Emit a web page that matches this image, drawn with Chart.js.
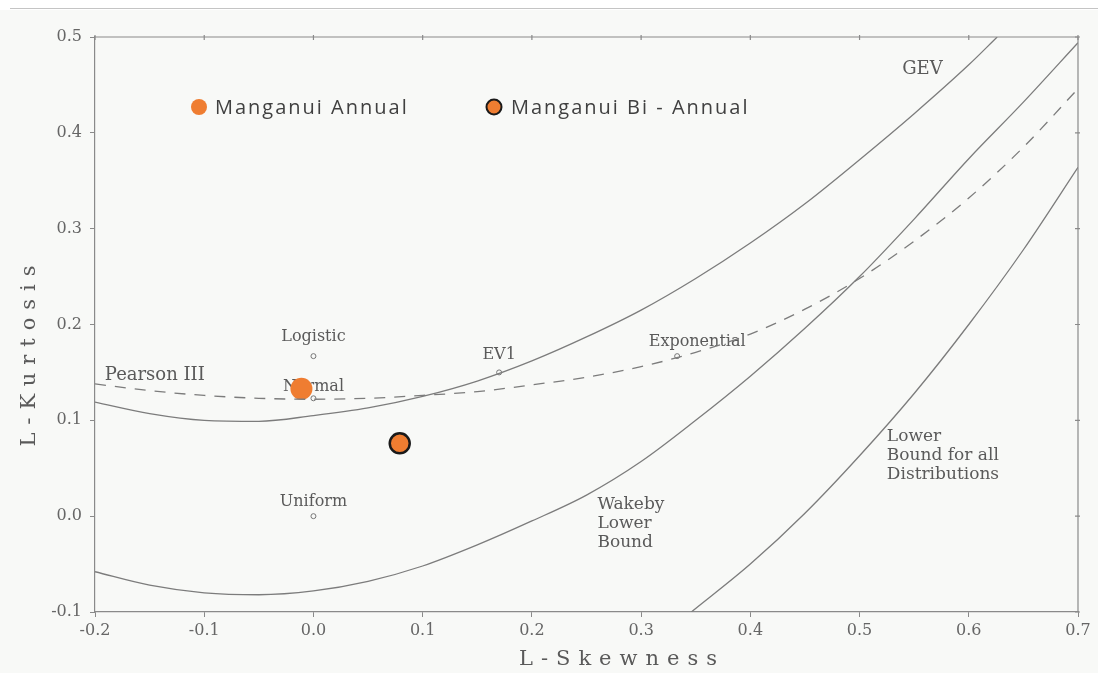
<!DOCTYPE html>
<html>
<head>
<meta charset="utf-8">
<script src="https://cdn.jsdelivr.net/npm/chart.js@4.4.0/dist/chart.umd.min.js"></script>
<style>
  body { margin: 0; background: #fff; }
  #wrap { position: relative; width: 1098px; height: 673px; }
  canvas { position: absolute; left: 0; top: 0; }
  #topline { position: absolute; left: 10px; top: 8px; width: 1088px; height: 1px; background: #c4c4c4; }
</style>
</head>
<body>
<div id="wrap">
  <canvas id="chart" width="1098" height="673"></canvas>
  <div id="topline"></div>
</div>
<script>
const skewSteps = [-0.2, -0.15, -0.1, -0.05, 0, 0.05, 0.1, 0.15, 0.2, 0.25, 0.3, 0.35, 0.4, 0.45, 0.5, 0.55, 0.6, 0.65, 0.7];

const gevSkew = [-0.2, -0.15, -0.1, -0.05, 0, 0.05, 0.1, 0.15, 0.2, 0.25, 0.3, 0.35, 0.4, 0.45, 0.5, 0.55, 0.6, 0.626];
const gevKurt = [0.119, 0.107, 0.100, 0.099, 0.105, 0.113, 0.125, 0.141, 0.162, 0.187, 0.215, 0.248, 0.285, 0.326, 0.372, 0.42, 0.471, 0.5];

const pearsonKurt = [0.138, 0.131, 0.126, 0.123, 0.122, 0.123, 0.126, 0.130, 0.137, 0.145, 0.156, 0.171, 0.19, 0.216, 0.248, 0.287, 0.332, 0.385, 0.446];

const wakebyKurt = [-0.058, -0.072, -0.080, -0.082, -0.078, -0.068, -0.052, -0.030, -0.005, 0.022, 0.057, 0.100, 0.146, 0.196, 0.250, 0.310, 0.373, 0.432, 0.494];

const lowerSkew = [0.346, 0.4, 0.45, 0.5, 0.55, 0.6, 0.65, 0.7];
const lowerKurt = [-0.1, -0.05, 0.003, 0.063, 0.128, 0.2, 0.278, 0.364];

const distNames = ["Logistic", "Normal", "Uniform", "EV1", "Exponential"];
const distSkew = [0, 0, 0, 0.17, 0.333];
const distKurt = [0.167, 0.123, 0, 0.15, 0.167];

const annualSkew = [-0.011];
const annualKurt = [0.133];
const biAnnualSkew = [0.079];
const biAnnualKurt = [0.076];

const xTicks = [-0.2, -0.1, 0.0, 0.1, 0.2, 0.3, 0.4, 0.5, 0.6, 0.7];
const yTicks = [-0.1, 0.0, 0.1, 0.2, 0.3, 0.4, 0.5];

const orange = '#ef7d31';
const lineGray = '#7c7c7c';
const textGray = '#5a5a5a';
const serif = '"DejaVu Serif", "Liberation Serif", serif';

function toPoints(xs, ys) {
  return xs.map((x, i) => ({ x: x, y: ys[i] }));
}

// libellés placés en coordonnées de données (décalage en pixels pour les petits points)
const distLabelOffset = [[0, -19], [0, -11], [0, -14], [0, -18], [20, -14]];
const curveLabels = [
  { text: ["Pearson III"], x: -0.191, y: 0.147, size: 18 },
  { text: ["GEV"], x: 0.539, y: 0.466, size: 18 },
  { text: ["Wakeby", "Lower", "Bound"], x: 0.26, y: 0.0125, size: 17 },
  { text: ["Lower", "Bound for all", "Distributions"], x: 0.525, y: 0.083, size: 17 }
];

const decorPlugin = {
  id: 'decor',
  beforeDraw(chart) {
    const ctx = chart.ctx;
    ctx.save();
    ctx.fillStyle = '#ffffff';
    ctx.fillRect(0, 0, chart.width, chart.height);
    ctx.fillStyle = '#f8f9f7';
    ctx.fillRect(0, 10, chart.width, chart.height - 10);
    ctx.restore();
  },
  beforeDatasetsDraw(chart) {
    const ctx = chart.ctx;
    const xs = chart.scales.x, ys = chart.scales.y;
    ctx.save();
    ctx.fillStyle = textGray;
    ctx.textBaseline = 'middle';
    ctx.font = '16px ' + serif;
    ctx.textAlign = 'center';
    distNames.forEach((name, i) => {
      const px = xs.getPixelForValue(distSkew[i]) + distLabelOffset[i][0];
      const py = ys.getPixelForValue(distKurt[i]) + distLabelOffset[i][1];
      ctx.fillText(name, px, py);
    });
    ctx.textAlign = 'left';
    curveLabels.forEach(lab => {
      ctx.font = lab.size + 'px ' + serif;
      const px = xs.getPixelForValue(lab.x);
      const py = ys.getPixelForValue(lab.y);
      lab.text.forEach((t, j) => ctx.fillText(t, px, py + j * 19));
    });
    ctx.restore();
  },
  afterDraw(chart) {
    const ctx = chart.ctx;
    const a = chart.chartArea;
    const xs = chart.scales.x, ys = chart.scales.y;
    ctx.save();
    // cadre haut et droit avec petites graduations
    ctx.strokeStyle = '#8a8a8a';
    ctx.lineWidth = 1.2;
    ctx.beginPath();
    ctx.moveTo(a.left, a.top);
    ctx.lineTo(a.right, a.top);
    ctx.lineTo(a.right, a.bottom);
    ctx.stroke();
    ctx.beginPath();
    xTicks.forEach(v => {
      const px = xs.getPixelForValue(v);
      ctx.moveTo(px, a.top - 2);
      ctx.lineTo(px, a.top + 3);
    });
    yTicks.forEach(v => {
      const py = ys.getPixelForValue(v);
      ctx.moveTo(a.right - 3, py);
      ctx.lineTo(a.right + 2, py);
    });
    ctx.stroke();

    // titres des axes, espacés
    ctx.fillStyle = textGray;
    ctx.font = '21px ' + serif;
    ctx.textBaseline = 'middle';
    ctx.textAlign = 'center';
    ctx.letterSpacing = '8px';
    ctx.fillText('L-Skewness', 622, 660);
    ctx.save();
    ctx.translate(30, 352);
    ctx.rotate(-Math.PI / 2);
    ctx.fillText('L-Kurtosis', 0, 0);
    ctx.restore();
    ctx.letterSpacing = '0px';

    // légende
    ctx.font = '20px "Open Sans", sans-serif';
    ctx.letterSpacing = '2px';
    ctx.textAlign = 'left';
    ctx.fillStyle = orange;
    ctx.beginPath();
    ctx.arc(199, 107, 8, 0, Math.PI * 2);
    ctx.fill();
    ctx.fillStyle = '#404040';
    ctx.fillText('Manganui Annual', 215, 108);

    ctx.fillStyle = orange;
    ctx.strokeStyle = '#1a1a1a';
    ctx.lineWidth = 2;
    ctx.beginPath();
    ctx.arc(494, 107, 7.5, 0, Math.PI * 2);
    ctx.fill();
    ctx.stroke();
    ctx.fillStyle = '#404040';
    ctx.fillText('Manganui Bi - Annual', 511, 108);
    ctx.restore();
  }
};

const curveStyle = {
  showLine: true,
  pointRadius: 0,
  borderColor: lineGray,
  borderWidth: 1.3,
  cubicInterpolationMode: 'monotone',
  fill: false
};

new Chart(document.getElementById('chart'), {
  type: 'scatter',
  data: {
    datasets: [
      Object.assign({ label: 'GEV', data: toPoints(gevSkew, gevKurt) }, curveStyle),
      Object.assign({ label: 'Pearson III', data: toPoints(skewSteps, pearsonKurt), borderDash: [11, 9] }, curveStyle),
      Object.assign({ label: 'Wakeby Lower Bound', data: toPoints(skewSteps, wakebyKurt) }, curveStyle),
      Object.assign({ label: 'Lower Bound for all Distributions', data: toPoints(lowerSkew, lowerKurt) }, curveStyle),
      {
        label: 'Distributions',
        data: toPoints(distSkew, distKurt),
        pointRadius: 2.5,
        pointBackgroundColor: '#f8f9f7',
        pointBorderColor: '#777',
        pointBorderWidth: 1
      },
      {
        label: 'Manganui Annual',
        data: toPoints(annualSkew, annualKurt),
        pointRadius: 11,
        pointBackgroundColor: orange,
        pointBorderWidth: 0
      },
      {
        label: 'Manganui Bi - Annual',
        data: toPoints(biAnnualSkew, biAnnualKurt),
        pointRadius: 10,
        pointBackgroundColor: orange,
        pointBorderColor: '#1a1a1a',
        pointBorderWidth: 2.5
      }
    ]
  },
  options: {
    responsive: false,
    animation: false,
    layout: { padding: { top: 37, right: 20, left: 0, bottom: 0 } },
    plugins: {
      legend: { display: false },
      tooltip: { enabled: false }
    },
    scales: {
      x: {
        type: 'linear',
        min: -0.2,
        max: 0.7,
        afterFit: scale => { scale.height = 61; },
        afterBuildTicks: scale => { scale.ticks = xTicks.map(v => ({ value: v })); },
        ticks: {
          color: '#666',
          font: { family: serif, size: 16 },
          padding: 4,
          callback: v => (Math.round(v * 10) / 10).toFixed(1)
        },
        grid: { drawOnChartArea: false, color: '#8a8a8a', tickLength: 5 },
        border: { color: '#8a8a8a', width: 1.2 }
      },
      y: {
        type: 'linear',
        min: -0.1,
        max: 0.5,
        afterFit: scale => { scale.width = 95; },
        afterBuildTicks: scale => { scale.ticks = yTicks.map(v => ({ value: v })); },
        ticks: {
          color: '#666',
          font: { family: serif, size: 16 },
          padding: 8,
          callback: v => (Math.round(v * 10) / 10).toFixed(1)
        },
        grid: { drawOnChartArea: false, color: '#8a8a8a', tickLength: 5 },
        border: { color: '#8a8a8a', width: 1.2 }
      }
    }
  },
  plugins: [decorPlugin]
});
</script>
</body>
</html>
